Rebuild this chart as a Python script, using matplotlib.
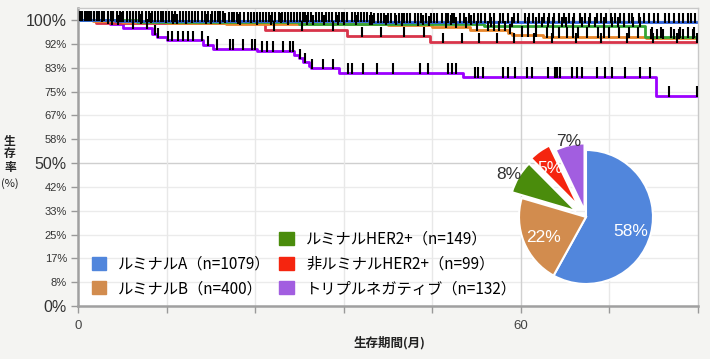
import numpy as np
import matplotlib.pyplot as plt
from matplotlib.patches import Patch

plt.rcParams['font.family'] = ['Noto Sans CJK JP', 'DejaVu Sans']

# --- data (months, survival %) ---
followup_end = 84

lumA_t = [0, 5, 20, 40, 60]
lumA_s = [100, 99.8, 99.6, 99.4, 99.2]
lumA_cens = [0.3, 0.6, 0.9, 1.1, 1.4, 1.7, 2.1, 2.6, 2.9, 3.2, 3.5, 4.0, 4.4, 4.8, 5.3, 5.7,
             6.1, 6.6, 7.0, 7.4, 7.9, 8.3, 8.7, 9.2, 9.6, 10.0, 10.4, 10.9, 11.2, 11.5, 11.9,
             12.3, 12.7, 13.1, 13.8, 14.2, 14.6, 15.0, 15.4, 15.9, 16.3, 16.8, 17.2, 17.6,
             18.1, 18.5, 18.9, 19.3, 19.7, 20.4, 20.8, 21.1, 21.6, 22.0, 22.5, 23.0, 23.4,
             23.8, 24.2, 24.6, 25.1, 25.5, 25.9, 26.3, 26.7, 27.2, 27.6, 28.0, 28.4, 28.9,
             29.3, 29.7, 30.1, 30.5, 30.8, 31.2, 31.5, 32.2, 32.7, 33.1, 33.6, 34.0, 34.4,
             34.9, 35.3, 35.7, 36.1, 36.5, 37.1, 37.5, 37.9, 38.4, 38.8, 39.2, 39.7, 40.1,
             40.6, 41.0, 41.4, 42.0, 42.4, 42.9, 43.5, 43.9, 44.2, 44.6, 45.0, 45.6, 46.1,
             46.5, 47.1, 47.8, 48.2, 48.6, 49.3, 49.8, 50.1, 50.6, 51.0, 51.8, 52.3, 52.9,
             53.7, 54.2, 54.6, 55.2, 55.8, 56.4, 57.1, 57.6, 58.3, 59.0, 59.6, 60.5, 61.1,
             61.7, 62.4, 63.1, 63.8, 64.5, 65.2, 65.9, 66.5, 67.2, 68.0, 68.7, 69.4, 70.3,
             70.9, 71.5, 72.2, 72.8, 73.4, 73.9, 74.6, 75.1, 76.0, 76.7, 77.4, 78.0, 78.6,
             79.5, 80.1, 80.8, 81.4, 81.9, 82.7, 83.1, 83.6]

lumB_t = [0, 2, 6, 12, 20, 42, 48, 53.1, 58.3, 58.8, 63, 77]
lumB_s = [100, 99.6, 99.2, 98.9, 98.6, 98.2, 97.7, 96.5, 95.5, 94.6, 94.2, 93.6]
lumB_cens = [1.5, 3.2, 5.8, 7.4, 9.9, 12.8, 14.6, 17.3, 19.2, 22.0, 24.3, 26.2, 28.4, 31.0,
             33.3, 35.2, 37.6, 39.8, 41.7, 43.9, 46.0, 47.5, 49.8, 51.2, 52.5, 54.0, 55.5, 56.3,
             57.0, 57.8, 58.5, 60.2, 61.0, 62.1, 63.5, 64.3, 65.2, 66.3, 67.0, 67.8, 69.0, 70.5,
             71.2, 72.0, 73.3, 74.6, 75.8, 77.6, 78.4, 79.3, 80.7, 81.4, 82.0, 83.3]

her2_t = [0, 8, 30, 55, 76.8]
her2_s = [100, 99.3, 98.6, 97.9, 94.2]
her2_cens = [2.1, 4.7, 8.6, 11.9, 15.5, 19.9, 23.4, 27.5, 31.8, 36.0, 39.5, 43.1, 46.8, 50.5,
             53.3, 55.9, 58.8, 60.9, 62.0, 62.9, 63.7, 64.4, 65.5, 66.1, 67.0, 68.3, 69.2, 70.1,
             71.2, 72.4, 73.1, 74.0, 75.2, 76.2, 77.8, 79.0, 80.4, 81.5, 82.6, 83.4]

nonlum_t = [0, 2.5, 25.3, 36.4, 47.7]
nonlum_s = [100, 98.9, 96.5, 94.5, 92.4]
nonlum_cens = [4.0, 8.5, 13.4, 18.0, 21.7, 26.5, 30.3, 34.6, 38.5, 41.0, 44.2, 46.9, 49.4,
               52.0, 54.3, 56.7, 59.0, 61.8, 64.2, 67.5, 70.8, 74.4, 77.9, 81.2, 83.8]

tn_t = [0, 4.3, 6.1, 10.0, 10.7, 12.1, 16.9, 18.3, 24.2, 29.2, 29.9, 30.5, 31.3, 31.6, 35.3,
        52.1, 78.3]
tn_s = [100, 98.5, 97.1, 95.0, 94.0, 93.0, 91.3, 90.0, 89.3, 87.8, 86.6, 85.3, 84.0, 83.1,
        81.6, 80.2, 73.6]
tn_cens = [3.4, 4.6, 5.4, 7.4, 9.3, 10.4, 10.8, 12.2, 12.7, 13.5, 14.2, 14.9, 15.6, 16.8,
           17.6, 18.8, 20.6, 21.0, 22.3, 23.6, 24.0, 24.9, 25.6, 26.4, 27.8, 28.7, 29.1, 30.1,
           30.7, 31.7, 33.2, 34.5, 36.6, 37.1, 38.6, 40.5, 42.7, 46.3, 47.4, 50.1, 50.7, 51.2,
           53.8, 54.2, 54.9, 57.6, 58.2, 59.2, 60.8, 61.5, 63.7, 64.6, 64.9, 65.3, 66.9, 67.6,
           68.3, 70.3, 71.4, 72.3, 74.1, 76.1, 77.5, 80.1, 83.8]

legend_labels = ['ルミナルA（n=1079）', 'ルミナルB（n=400）', 'ルミナルHER2+（n=149）',
                 '非ルミナルHER2+（n=99）', 'トリプルネガティブ（n=132）']
counts = [1079, 400, 149, 99, 132]
pie_colors = ['#5186dc', '#d28c4e', '#4a8c0c', '#f5250f', '#a25ee0']
line_colors = ['#2d5fd8', '#e8862c', '#35a535', '#d8344a', '#9c00ff']

ytick_vals = [0, 8.33, 16.67, 25, 33.33, 41.67, 50, 58.33, 66.67, 75, 83.33, 91.67, 100]
ytick_labels = ['0%', '8%', '17%', '25%', '33%', '42%', '50%', '58%', '67%', '75%', '83%', '92%', '100%']
xtick_vals = [0, 12, 24, 36, 48, 60, 72, 84]
xtick_labels = ['0', '', '', '', '', '60', '', '']

# --- figure ---
fig = plt.figure(figsize=(7.1, 3.59), dpi=100)
fig.patch.set_facecolor('#f4f4f2')
ax = fig.add_axes([0.1099, 0.1476, 0.8733, 0.8301])
ax.set_facecolor('white')

ax.set_xlim(0, followup_end)
ax.set_ylim(0, 104.2)

for v in ytick_vals:
    ax.axhline(v, color='#cfcfcf' if v == 50 else '#ebebeb', lw=1, zorder=0)
for v in xtick_vals[1:-1]:
    ax.axvline(v, color='#d0d0d0' if v == 60 else '#e8e8e8', lw=1, zorder=0)

curves = [(tn_t, tn_s, tn_cens, 4), (nonlum_t, nonlum_s, nonlum_cens, 3),
          (lumB_t, lumB_s, lumB_cens, 1), (her2_t, her2_s, her2_cens, 2),
          (lumA_t, lumA_s, lumA_cens, 0)]
for t, s, cens, i in curves:
    tt = list(t) + [followup_end]
    ss = list(s) + [s[-1]]
    ax.step(tt, ss, where='post', color=line_colors[i], lw=2, zorder=2)
    idx = np.searchsorted(np.array(t), np.array(cens), side='right') - 1
    cs = np.array(s)[idx]
    ax.vlines(cens, cs - 0.4, cs + 3.2, color='black', lw=1.5, zorder=3)

ax.set_yticks(ytick_vals)
ax.set_yticklabels(ytick_labels, family=['Liberation Sans'])
for lab, v in zip(ax.get_yticklabels(), ytick_vals):
    lab.set_fontsize(11.5 if v in (0, 50, 100) else 8)
    lab.set_color('#333333')
ax.set_xticks(xtick_vals)
ax.set_xticklabels(xtick_labels, family=['Liberation Sans'], fontsize=9.5, color='#444444')
ax.tick_params(axis='both', color='#999999', length=5, width=1)
ax.tick_params(axis='x', pad=5)
ax.tick_params(axis='y', pad=3)

for side in ['left', 'bottom']:
    ax.spines[side].set_color('#a0a0a0')
    ax.spines[side].set_linewidth(1.8)
for side in ['top', 'right']:
    ax.spines[side].set_color('#c8c8c8')
    ax.spines[side].set_linewidth(1)

# legend (first column starts one row lower)
handles = [Patch(alpha=0)] + [Patch(color=c) for c in pie_colors]
labels = [''] + legend_labels
ax.legend(handles, labels, ncol=2, loc='lower left', bbox_to_anchor=(0.022, 0.03),
          frameon=False, fontsize=11, handlelength=0.95, handleheight=0.95,
          handletextpad=0.8, columnspacing=0.55, labelspacing=0.5,
          borderpad=0, borderaxespad=0)

# pie
pax = fig.add_axes([0.7074, 0.1623, 0.2359, 0.4666])
wedges, _ = pax.pie(counts, colors=pie_colors, startangle=90, counterclock=False,
                    explode=[0, 0, 0.17, 0.2, 0.1],
                    wedgeprops=dict(edgecolor='white', linewidth=1.5))
pax.set_xlim(-1.25, 1.25)
pax.set_ylim(-1.25, 1.25)
pax.set_aspect('equal')
total = sum(counts)
label_dist = [0.69, 0.68, 1.17, 0.74, 1.1]
label_colors = ['white', 'white', '#333333', 'white', '#333333']
for w, n, d, c in zip(wedges, counts, label_dist, label_colors):
    ang = np.deg2rad((w.theta1 + w.theta2) / 2)
    cx, cy = w.center
    pax.text(cx + d * np.cos(ang), cy + d * np.sin(ang) - 0.05, f'{round(100 * n / total)}%',
             ha='center', va='center', fontsize=12.5, color=c, family=['Liberation Sans'])

# axis titles
fig.text(10 / 710, 1 - 154 / 359, '生\n存\n率', ha='center', va='center', fontsize=8.5,
         fontweight='bold', linespacing=1.0, color='#222222')
fig.text(10 / 710, 1 - 184 / 359, '(%)', ha='center', va='center', fontsize=8, color='#222222')
fig.text(390 / 710, 1 - 343 / 359, '生存期間(月)', ha='center', va='center', fontsize=9,
         fontweight='bold', color='#222222')

fig.savefig('out.png', dpi=100, facecolor=fig.get_facecolor())
